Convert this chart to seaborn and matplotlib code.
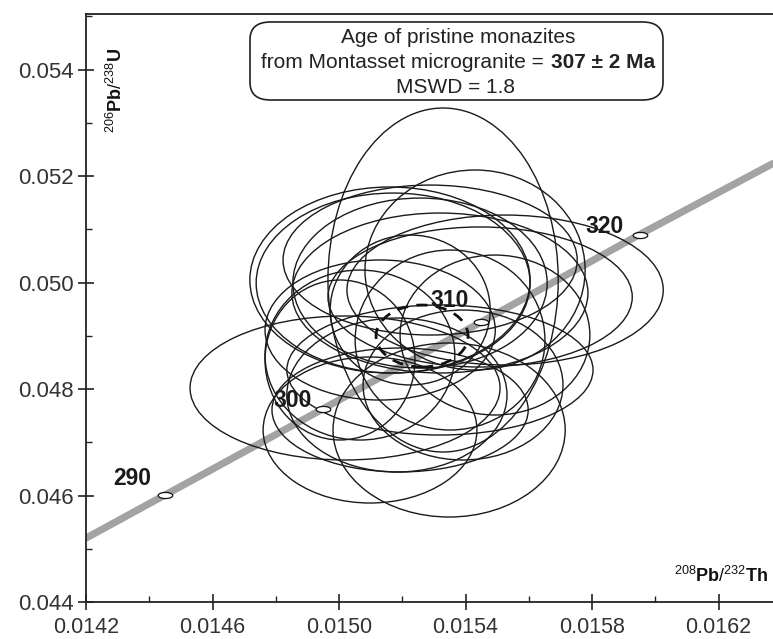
import numpy as np
import pandas as pd
import matplotlib
matplotlib.use("Agg")
import matplotlib.pyplot as plt
from matplotlib.patches import Ellipse, FancyBboxPatch
from matplotlib.path import Path
from matplotlib.ticker import MultipleLocator, FormatStrFormatter
import seaborn as sns

# ---------------- data ----------------
# concordia curve (208Pb/232Th vs 206Pb/238U)
conc_x = [0.01420, 0.01445, 0.01495, 0.01545, 0.01595, 0.01637]
conc_y = [0.04520, 0.04601, 0.04763, 0.04926, 0.05090, 0.05223]

# age marks on the concordia (Ma)
age_labels = ["290", "300", "310", "320"]
age_x = [0.01445, 0.01495, 0.01545, 0.01595]
age_y = [0.04601, 0.04763, 0.04926, 0.05090]

# analyses: centre and half axes of error ellipses
ell_x = [0.015329, 0.015161, 0.015171, 0.015430, 0.015019, 0.015525, 0.015446,
         0.015319, 0.015319, 0.015288, 0.015348, 0.015098, 0.015256, 0.015193,
         0.015183, 0.015392, 0.015130, 0.015066, 0.015225, 0.015351, 0.015003,
         0.015493]
ell_y = [0.050047, 0.050047, 0.049990, 0.050235, 0.048019, 0.049859, 0.049728,
         0.048357, 0.049803, 0.050422, 0.047230, 0.047230, 0.049990, 0.047606,
         0.047887, 0.048075, 0.049108, 0.048638, 0.049484, 0.048920, 0.048545,
         0.049014]
ell_sx = [0.000364, 0.000443, 0.000433, 0.000348, 0.000490, 0.000500, 0.000481,
          0.000484, 0.000468, 0.000465, 0.000367, 0.000338, 0.000402, 0.000405,
          0.000348, 0.000316, 0.000364, 0.000300, 0.000253, 0.000300, 0.000237,
          0.000300]
ell_sy = [0.003230, 0.001747, 0.001690, 0.001878, 0.001352, 0.001408, 0.001315,
          0.001221, 0.001502, 0.001408, 0.001634, 0.001371, 0.001596, 0.001164,
          0.001446, 0.001408, 0.001315, 0.001596, 0.001408, 0.001690, 0.001502,
          0.001502]

# mean (concordia age) ellipse
mean_x, mean_y, mean_sx, mean_sy = 0.0152625, 0.048995, 0.0001455, 0.000582

x_ticks = [0.0142, 0.0146, 0.0150, 0.0154, 0.0158, 0.0162]
y_ticks = [0.044, 0.046, 0.048, 0.050, 0.052, 0.054]

box_lines = ["Age of pristine monazites",
             "from Montasset microgranite =",
             "307 \u00b1 2 Ma",
             "MSWD = 1.8"]

# ---------------- style ----------------
sns.set_style("ticks")
plt.rcParams["font.family"] = ["Liberation Sans", "DejaVu Sans"]
plt.rcParams["mathtext.fontset"] = "custom"
plt.rcParams["mathtext.rm"] = "Liberation Sans"
plt.rcParams["mathtext.it"] = "Liberation Sans:italic"
plt.rcParams["mathtext.bf"] = "Liberation Sans:bold"

W, H = 773, 639
fig = plt.figure(figsize=(W / 100, H / 100), dpi=100)
ax = fig.add_axes([86 / W, 37 / H, 687 / W, 588.5 / H])

ax.set_xlim(0.0142, 0.016372)
ax.set_ylim(0.044, 0.055052)

# concordia
conc_df = pd.DataFrame({"x": conc_x, "y": conc_y})
sns.lineplot(data=conc_df, x="x", y="y", ax=ax, color="#a3a3a3", lw=5.2,
             sort=False, estimator=None, zorder=1)

# error ellipses
for cx, cy, sx, sy in zip(ell_x, ell_y, ell_sx, ell_sy):
    ax.add_patch(Ellipse((cx, cy), 2 * sx, 2 * sy, fill=False,
                         edgecolor="#1a1a1a", lw=1.0, zorder=3))
ax.add_patch(Ellipse((mean_x, mean_y), 2 * mean_sx, 2 * mean_sy, fill=False,
                     edgecolor="#111111", lw=2.0, ls=(0, (4, 3)), zorder=4))

# age marks
t = np.linspace(0, 2 * np.pi, 41)
mark = Path(np.column_stack([np.cos(t), 0.42 * np.sin(t)]))
age_df = pd.DataFrame({"x": age_x, "y": age_y})
sns.scatterplot(data=age_df, x="x", y="y", ax=ax, marker=mark, s=110,
                facecolor="white", edgecolor="#111111", linewidth=0.9,
                zorder=5)
offsets = [(-52, 10), (-50, 2), (-51, 15), (-54, 2)]
for lab, x, y, off in zip(age_labels, age_x, age_y, offsets):
    ax.annotate(lab, (x, y), xytext=(off[0] * 0.72, off[1] * 0.72),
                textcoords="offset points", ha="left", va="baseline",
                fontsize=16.5, fontweight="bold", color="#1a1a1a", zorder=6)

# text box
ax.add_patch(FancyBboxPatch((0.2387, 0.853), 0.6012, 0.1326,
                            boxstyle="round,pad=0,rounding_size=0.03",
                            transform=ax.transAxes, facecolor="white",
                            edgecolor="#222222", lw=1.2, zorder=7))
def ax_x(px):
    return (px - 86) / 687
def ax_y(py):
    return (602 - py) / 588.5
tk = dict(transform=ax.transAxes, fontsize=15, color="#222222", zorder=8,
          va="baseline")
ax.text(ax_x(458), ax_y(43), box_lines[0], ha="center", **tk)
ax.text(ax_x(544), ax_y(68), box_lines[1], ha="right", **tk)
ax.text(ax_x(551), ax_y(68), box_lines[2], ha="left", fontweight="bold", **tk)
ax.text(ax_x(456), ax_y(93), box_lines[3], ha="center", **tk)

# axis titles inside the frame
ax.text(ax_x(116), ax_y(90), r"$^{206}\mathbf{Pb}/^{238}\mathbf{U}$",
        transform=ax.transAxes, rotation=90, ha="center", va="center",
        fontsize=13, color="#111111")
ax.text(ax_x(768), ax_y(582), r"$^{208}\mathbf{Pb}/^{232}\mathbf{Th}$",
        transform=ax.transAxes, ha="right", va="baseline",
        fontsize=13, color="#111111")
ax.set_xlabel("")
ax.set_ylabel("")

# ticks
ax.set_xticks(x_ticks)
ax.set_yticks(y_ticks)
ax.xaxis.set_major_formatter(FormatStrFormatter("%.4f"))
ax.yaxis.set_major_formatter(FormatStrFormatter("%.3f"))
ax.xaxis.set_minor_locator(MultipleLocator(0.0002))
ax.yaxis.set_minor_locator(MultipleLocator(0.001))
ax.tick_params(which="major", direction="inout", length=11, width=1.2,
               color="#222222", labelsize=16, labelcolor="#333333", pad=3)
ax.tick_params(axis="x", which="major", pad=5, labelsize=15.5)
ax.tick_params(which="minor", direction="in", length=4.5, width=1.0,
               color="#222222")

for s in ["left", "bottom", "top"]:
    ax.spines[s].set_visible(True)
    ax.spines[s].set_linewidth(1.3)
    ax.spines[s].set_color("#222222")
ax.spines["right"].set_visible(False)

fig.savefig("out.png", dpi=100, facecolor="white")
